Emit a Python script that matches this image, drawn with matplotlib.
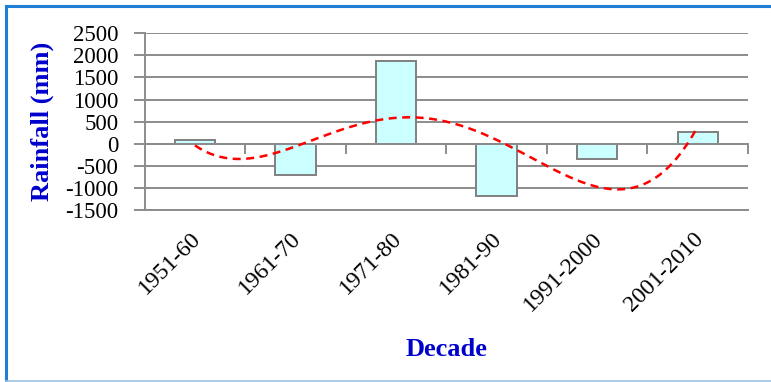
import numpy as np
import matplotlib.pyplot as plt
import matplotlib.transforms as mtransforms
from matplotlib.lines import Line2D

# ─── data ────────────────────────────────────────────────────────────────
decades = ["1951-60", "1961-70", "1971-80", "1981-90", "1991-2000", "2001-2010"]
rainfall = [90, -700, 1865, -1190, -335, 255]
y_ticks = [-1500, -1000, -500, 0, 500, 1000, 1500, 2000, 2500]

plt.rcParams["font.family"] = ["Liberation Serif", "DejaVu Serif"]
plt.rcParams["axes.unicode_minus"] = False

fig = plt.figure(figsize=(7.71, 3.82), dpi=100)
ax = fig.add_axes([0.1877, 0.4503, 0.970 - 0.1877, 0.9128 - 0.4503])

x = np.arange(len(decades))
grid_col = "#8c8c8c"

# gridlines
ax.set_ylim(y_ticks[0], y_ticks[-1])
ax.set_yticks(y_ticks)
ax.grid(axis="y", color=grid_col, linewidth=1.4)
ax.set_axisbelow(True)

# bars
ax.bar(x, rainfall, width=0.4, color="#ccffff", edgecolor="#808080",
       linewidth=1.4, zorder=3)

# polynomial trendline (order 4), like the spreadsheet one
coef = np.polyfit(x, rainfall, 4)
xs = np.linspace(x[0], x[-1], 200)
ax.plot(xs, np.polyval(coef, xs), color="red", linestyle=(0, (3.2, 2.2)),
        linewidth=1.8, zorder=4)

ax.set_xlim(-0.5, len(decades) - 0.5)

# category axis crosses at zero: ticks between categories
ax.spines["bottom"].set_position(("data", 0))
ax.spines["bottom"].set_color(grid_col)
ax.spines["bottom"].set_linewidth(1.4)
ax.spines["bottom"].set_zorder(3.5)
ax.set_xticks(np.arange(0.5, len(decades), 1.0))
ax.tick_params(axis="x", direction="out", length=7, width=1.4,
               color=grid_col, labelbottom=False)

ax.spines["left"].set_color(grid_col)
ax.spines["left"].set_linewidth(1.4)
ax.spines["right"].set_visible(False)
ax.spines["top"].set_visible(False)
ax.tick_params(axis="y", direction="out", length=8, width=1.4,
               color=grid_col, labelsize=16.5, pad=11)

# labels along the bottom
sec = ax.secondary_xaxis(0.0)
sec.set_xticks(x)
sec.set_xticklabels(decades, rotation=45, ha="right", rotation_mode="anchor",
                    fontsize=17)
sec.tick_params(length=0, pad=13)
sec.spines["bottom"].set_color(grid_col)
sec.spines["bottom"].set_linewidth(1.4)
shift = mtransforms.ScaledTranslation(-5 / 100, 0, fig.dpi_scale_trans)
for lbl in sec.get_xticklabels():
    lbl.set_transform(lbl.get_transform() + shift)

ax.set_ylabel("Rainfall (mm)", fontsize=19, fontweight="bold",
              color="#0000cc", labelpad=8)
fig.text(446 / 771, 1 - 349 / 382, "Decade", fontsize=19, fontweight="bold",
         color="#0000cc", ha="center", va="center")

# chart frame
fig.add_artist(Line2D([0.0078, 0.0078], [0.003, 0.9856], color="#1f7fd6",
                      linewidth=2.2))
fig.add_artist(Line2D([0.0078, 1.0], [0.9856, 0.9856], color="#1f7fd6",
                      linewidth=2.2))
fig.add_artist(Line2D([0.0078, 1.0], [0.003, 0.003], color="#9cc3e5",
                      linewidth=1.2))

fig.savefig("out.png", dpi=100)
